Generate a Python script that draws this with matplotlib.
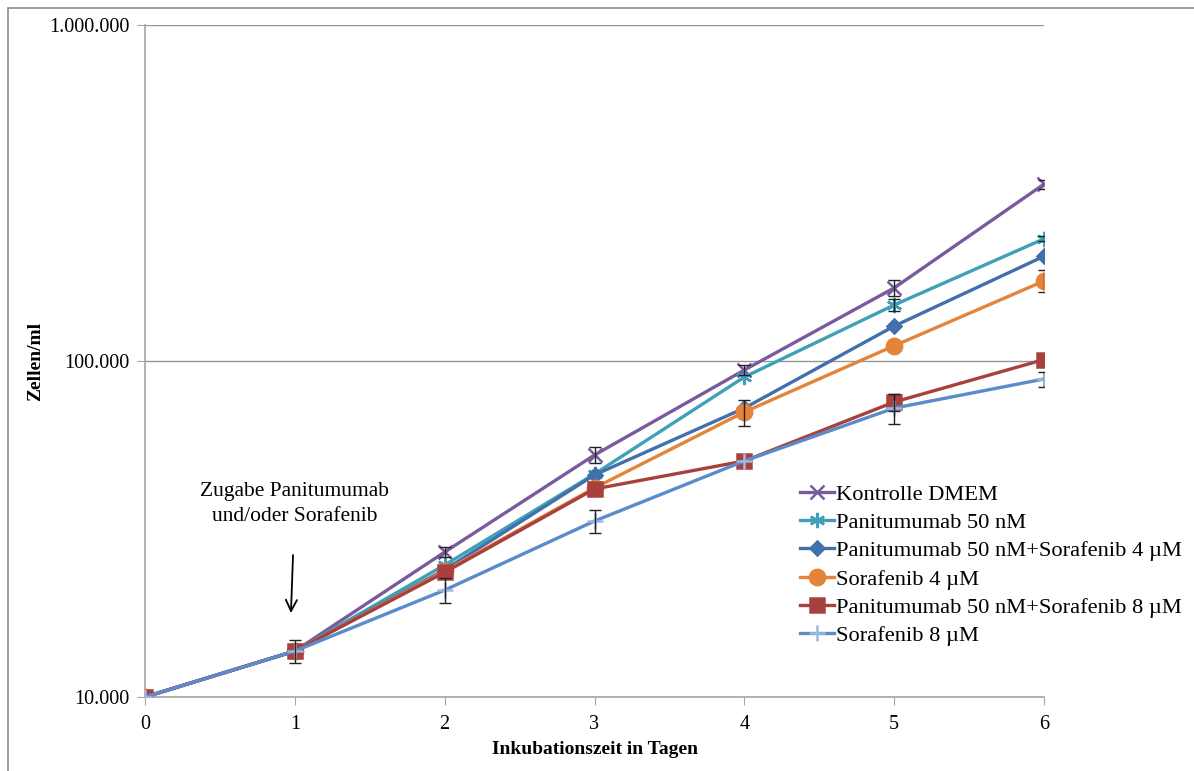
import matplotlib
matplotlib.use('Agg')
import matplotlib.pyplot as plt
import matplotlib.ticker as mticker
import numpy as np
from matplotlib.patches import Rectangle

plt.rcParams['font.family'] = ['Liberation Serif', 'DejaVu Serif']

# Zellzahlen pro Tag (Zellen/ml)
tage = [0, 1, 2, 3, 4, 5, 6]
kontrolle = [10000, 13700, 27000, 52500, 94000, 165000, 336000]
pani50 = [10000, 13700, 24700, 46100, 89600, 146800, 231000]
pani_sora4 = [10000, 13700, 23900, 45800, 72400, 127000, 205000]
sora4 = [10000, 13700, 23700, 41900, 70500, 111000, 173000]
pani_sora8 = [10000, 13700, 23500, 41600, 50400, 75500, 101000]
sora8 = [10000, 13700, 20800, 33400, 50400, 72400, 88400]

# Standardabweichungen (0 = kein Fehlerbalken)
sd_kontrolle = [0, 0, 900, 2900, 3000, 9000, 10000]
sd_pani50 = [0, 0, 0, 0, 0, 6000, 4000]
sd_pani_sora4 = [0, 0, 0, 0, 0, 0, 0]
sd_sora4 = [0, 0, 0, 0, 6300, 0, 13000]
sd_pani_sora8 = [0, 0, 0, 0, 0, 4300, 0]
sd_sora8 = [0, 1100, 1800, 2600, 0, 7500, 4500]

labels = ['Kontrolle DMEM', 'Panitumumab 50 nM',
          'Panitumumab 50 nM+Sorafenib 4 \u00b5M', 'Sorafenib 4 \u00b5M',
          'Panitumumab 50 nM+Sorafenib 8 \u00b5M', 'Sorafenib 8 \u00b5M']

serien = [kontrolle, pani50, pani_sora4, sora4, pani_sora8, sora8]
fehler = [sd_kontrolle, sd_pani50, sd_pani_sora4, sd_sora4, sd_pani_sora8, sd_sora8]
farben = ['#7A5A9E', '#3FA0B8', '#4270AC', '#E3843A', '#A8413E', '#5A8BCB']
marker = ['x', (6, 2, 0), 'D', 'o', 's', '+']
msize = [10, 11, 7, 11, 10, 12]
mfarben = ['#7A5A9E', '#3FA0B8', '#4270AC', '#E3843A', '#A8413E', '#9FB8E2']

fig = plt.figure(figsize=(11.94, 7.71), dpi=100)
ax = fig.add_axes([145/1194, 1 - 697/771, (1044 - 145)/1194, (697 - 25)/771])

for y, err, c, m, ms, mc, lab in zip(serien, fehler, farben, marker, msize, mfarben, labels):
    ax.plot(tage, y, color=c, lw=2.4, marker=m, ms=ms, mfc=mc, mec=mc, mew=1.8,
            label=lab, zorder=3)
    x_e = np.array(tage)
    y_e = np.array(y)
    e = np.array(err)
    mask = e > 0
    if mask.any():
        ax.errorbar(x_e[mask], y_e[mask], yerr=e[mask], fmt='none', ecolor='#222222',
                    elinewidth=1, capsize=4, capthick=1, zorder=4)

ax.set_yscale('log')
ax.set_ylim(10000, 1000000)
ax.set_xlim(0, 6)
ax.set_xticks(tage)
ax.set_yticks([10000, 100000, 1000000])
ax.yaxis.set_minor_locator(mticker.NullLocator())
ax.yaxis.set_major_formatter(mticker.FuncFormatter(lambda v, p: f'{int(round(v)):,}'.replace(',', '.')))
ax.grid(axis='y', color='#969696', lw=1)
ax.set_axisbelow(True)

for s in ['top', 'right']:
    ax.spines[s].set_visible(False)
for s in ['left', 'bottom']:
    ax.spines[s].set_color('#a6a6a6')
    ax.spines[s].set_linewidth(1.2)
ax.tick_params(axis='both', colors='#a6a6a6', labelcolor='black', labelsize=14.5, length=6)
ax.tick_params(axis='x', pad=7)
ax.tick_params(axis='y', pad=5)

ax.set_xlabel('Inkubationszeit in Tagen', fontsize=14, fontweight='bold', labelpad=5)
ax.set_ylabel('Zellen/ml', fontsize=14, fontweight='bold')
ax.yaxis.set_label_coords(-0.112, 0.5)

ax.text(1, 37500, 'Zugabe Panitumumab\nund/oder Sorafenib', ha='center', va='center',
        fontsize=15.5, linespacing=1.45)
ax.annotate('', xy=(0.974, 17780), xytext=(0.988, 26460),
            arrowprops=dict(arrowstyle='->', color='black', lw=1.3,
                            mutation_scale=20, shrinkA=0, shrinkB=0))

ax.legend(loc='upper left', bbox_to_anchor=(789/1194, 1 - 473/771), bbox_transform=fig.transFigure,
          frameon=False, fontsize=16.2, handlelength=1.5, handletextpad=0.1,
          labelspacing=0.33, borderpad=0)

# Rahmen um das Diagramm
fig.patches.append(Rectangle((8/1194, -0.1), 1.2, 1 - 8/771 + 0.1, transform=fig.transFigure,
                             fill=False, edgecolor='#8c8c8c', lw=1.2))

fig.savefig('out.png', dpi=100)
